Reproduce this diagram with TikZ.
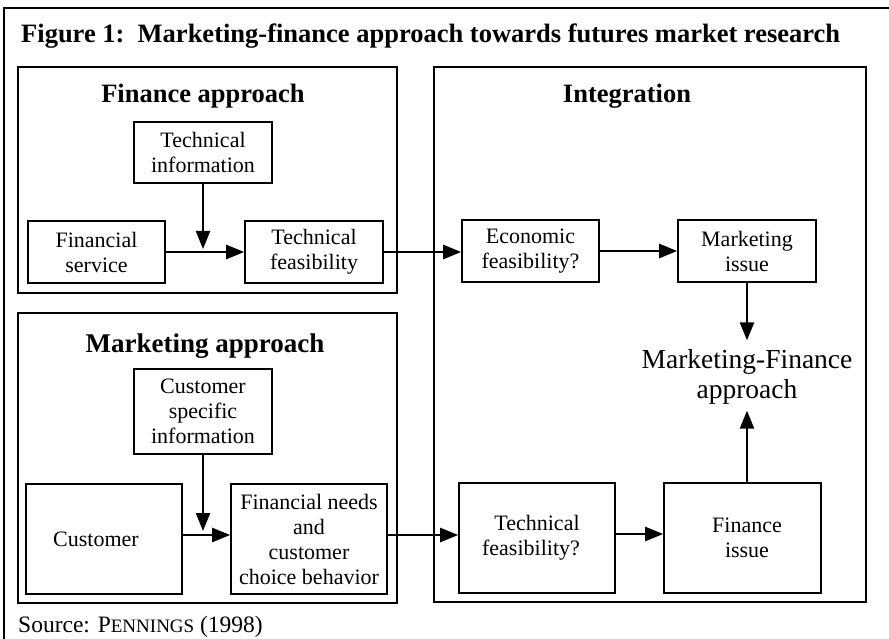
\documentclass[tikz,border=0pt]{standalone}
\usepackage{fontspec}
\setmainfont{Liberation Serif}
\usetikzlibrary{arrows.meta}
\newcommand\myboxfont{\fontsize{22}{25}\selectfont}
\newcommand\myheadfont{\fontsize{26.5}{30}\selectfont\bfseries}
\newcommand\mymffont{\fontsize{27.5}{30}\selectfont}
\begin{document}
\begin{tikzpicture}[x=1pt,y=-1pt,
  box/.style={draw,line width=1.6pt,align=center,inner sep=0pt,font=\myboxfont},
  group/.style={draw,line width=1.6pt,inner sep=0pt},
  head/.style={font=\myheadfont,inner sep=0pt,anchor=base},
  arr/.style={line width=2.4pt,-{Triangle[length=18pt,width=14pt]}},
  frame/.style={line width=1.6pt}]
\useasboundingbox (0,0) rectangle (889,639);
% outer frame (cropped)
\draw[frame] (889,8) -- (4,8) -- (4,639);
% title
\node[font=\myheadfont,inner sep=0pt,anchor=base west] (title) at (21,43)
  {Figure 1:\ \ Marketing-finance approach towards futures market research};
% group boxes
\node[group,minimum width=379,minimum height=226] (gfin) at (207.5,180) {};
\node[group,line width=1.3pt,minimum width=432,minimum height=535] (gint) at (650,334.5) {};
\node[group,minimum width=379,minimum height=290] (gmkt) at (207.5,458) {};
\node[head] (hfin) at (203,103) {Finance approach};
\node[head] (hint) at (627,103) {Integration};
\node[head,font=\fontsize{27}{30}\selectfont\bfseries] (hmkt) at (205,352) {Marketing approach};
% finance approach
\node[box,minimum width=138,minimum height=61] (tinfo) at (203,152.5) {Technical\\information};
\node[box,minimum width=137,minimum height=62] (fserv) at (96.5,252) {Financial\\service};
\node[box,minimum width=138,minimum height=62] (tfeas) at (314,252) {Technical\\feasibility};
% integration
\node[box,minimum width=137,minimum height=62] (efeas) at (530.5,251) {Economic\\feasibility?};
\node[box,minimum width=138,minimum height=62] (missue) at (747,251) {Marketing\\issue};
\node[font=\mymffont,align=center,inner sep=0pt] (mf) at (747,377) {Marketing-Finance\\approach};
\node[box,minimum width=156,minimum height=110] (tfeasq) at (537,538) {Technical\\feasibility?\hspace*{12pt}};
\node[box,minimum width=157,minimum height=110] (fissue) at (742.5,538) {\hspace*{9pt}Finance\\\hspace*{9pt}issue};
% marketing approach
\node[box,minimum width=138,minimum height=85] (csinfo) at (203,411.5) {Customer\\specific\\information};
\node[box,minimum width=156,minimum height=110] (cust) at (104,539) {Customer\hspace*{16pt}};
\node[box,minimum width=156,minimum height=110] (fneeds) at (309,539) {Financial needs\\and\\customer\\choice behavior};
% source
\node[font=\fontsize{23.5}{26}\selectfont,inner sep=0pt,anchor=west] (src) at (18,627)
  {Source: P{\fontsize{19}{22}\selectfont ENNINGS} (1998)};
% connectors
\draw[arr] (fserv.east) -- (tfeas.west);
\draw[arr,shorten >=3pt] (tinfo.south) -- (tinfo.south |- fserv.east);
\draw[arr] (tfeas.east) -- (efeas.west |- tfeas.east);
\draw[arr] (efeas.east) -- (missue.west);
\draw[arr,shorten >=9pt] (missue.south) -- (missue.south |- mf.north);
\draw[arr,shorten >=6pt] (fissue.north -| missue.south) -- (missue.south |- mf.south);
\draw[arr] ([yshift=4pt]cust.east) -- ([yshift=4pt]fneeds.west);
\draw[arr,shorten >=4pt] (csinfo.south) -- ([yshift=4pt]csinfo.south |- cust.east);
\draw[arr] ([yshift=4pt]fneeds.east) -- ([yshift=4pt]tfeasq.west |- fneeds.east);
\draw[arr] ([yshift=4pt]tfeasq.east) -- ([yshift=4pt]fissue.west |- tfeasq.east);
\end{tikzpicture}
\end{document}
